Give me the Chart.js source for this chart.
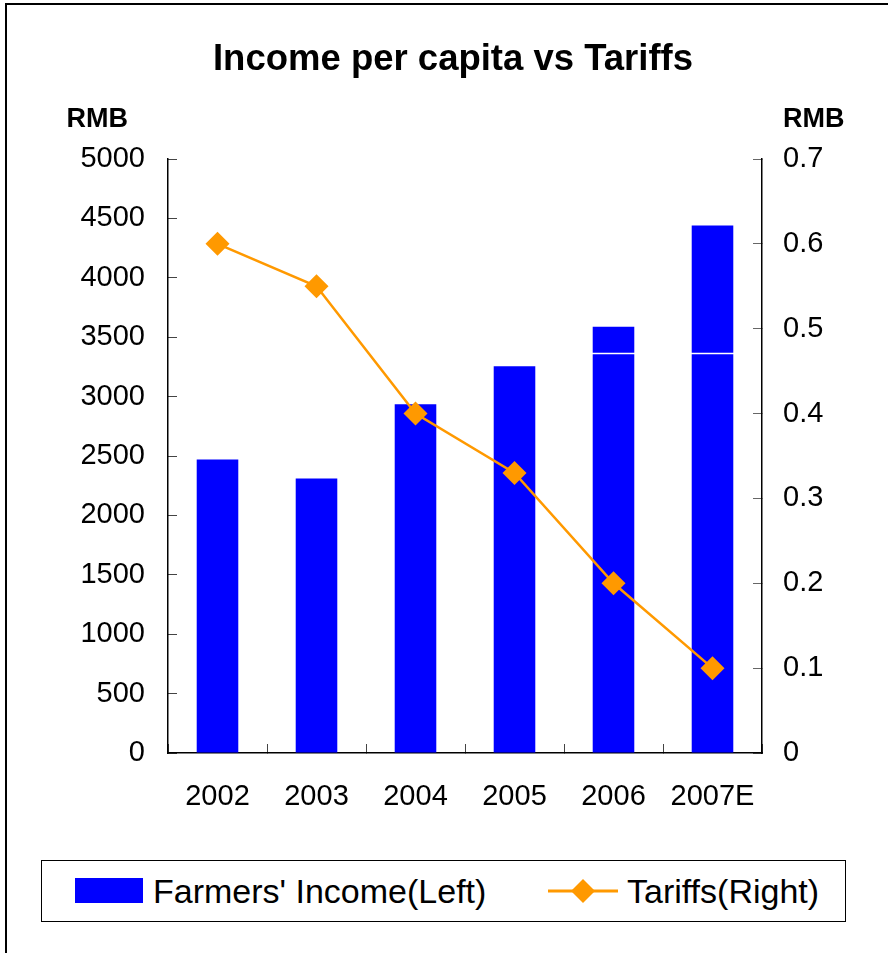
<!DOCTYPE html>
<html>
<head>
<meta charset="utf-8">
<title>Income per capita vs Tariffs</title>
<script src="https://cdn.jsdelivr.net/npm/chart.js@4.4.1/dist/chart.umd.min.js"></script>
<style>
  html, body { margin: 0; padding: 0; background: #fff; }
  #wrap { position: relative; width: 888px; height: 953px; overflow: hidden; font-family: 'Liberation Sans', Arial, sans-serif; }
  #frame { position: absolute; left: 5px; top: 3px; right: -10px; bottom: -10px; border-top: 2px solid #000; border-left: 2px solid #000; }
  #myChart { position: absolute; left: 0; top: 0; }
  #legend { position: absolute; left: 41px; top: 860px; width: 803px; height: 60px; border: 1px solid #000; background: #fff; }
  #legend .swatch { position: absolute; left: 33px; top: 17px; width: 68px; height: 25px; background: #0000ff; }
  #legend .label { position: absolute; top: 0; line-height: 60px; font-size: 34px; color: #000; white-space: nowrap; }
  #legend svg { position: absolute; left: 506px; top: 0; }
</style>
</head>
<body>
<div id="wrap">
  <canvas id="myChart" width="888" height="953"></canvas>
  <div id="frame"></div>
  <div id="legend">
    <span class="swatch"></span>
    <span class="label" id="lbl-bar" style="left:111px"></span>
    <svg width="70" height="60" viewBox="0 0 70 60">
      <line x1="0" y1="30" x2="70" y2="30" stroke="#ff9900" stroke-width="3"/>
      <polygon points="35,18 47,30 35,42 23,30" fill="#ff9900"/>
    </svg>
    <span class="label" id="lbl-line" style="left:585px"></span>
  </div>
</div>
<script>
const titleText = 'Income per capita vs Tariffs';
const unitLeft = 'RMB';
const unitRight = 'RMB';

const years = ['2002', '2003', '2004', '2005', '2006', '2007E'];
const income = [2470, 2310, 2936, 3255, 3587, 4440];
const tariffs = [0.6, 0.55, 0.4, 0.33, 0.2, 0.1];
const incomeLabel = "Farmers' Income(Left)";
const tariffLabel = 'Tariffs(Right)';

document.getElementById('lbl-bar').textContent = incomeLabel;
document.getElementById('lbl-line').textContent = tariffLabel;

const fontFamily = "'Liberation Sans', Arial, sans-serif";
const tickFont = { family: fontFamily, size: 29 };
const BLUE = '#0000ff';
const ORANGE = '#ff9900';

// title and unit captions above the axes
const headings = {
  id: 'headings',
  afterDraw(chart) {
    const { ctx, scales } = chart;
    ctx.save();
    ctx.fillStyle = '#000';
    ctx.textBaseline = 'alphabetic';
    ctx.font = 'bold 36.5px ' + fontFamily;
    ctx.textAlign = 'center';
    ctx.fillText(titleText, 453, 70);
    ctx.font = 'bold 27px ' + fontFamily;
    ctx.textAlign = 'right';
    ctx.fillText(unitLeft, scales.y.right - 40, 127);
    ctx.textAlign = 'left';
    ctx.fillText(unitRight, scales.y1.left + 21, 127);
    ctx.restore();
  }
};

// thin white seam running through the tall bars
const seam = {
  id: 'seam',
  afterDatasetDraw(chart, args) {
    if (args.index !== 0) return;
    const { ctx, chartArea, scales } = chart;
    const py = Math.round(scales.y.getPixelForValue(3365)) + 0.5;
    ctx.save();
    ctx.strokeStyle = '#fff';
    ctx.lineWidth = 1.5;
    ctx.beginPath();
    ctx.moveTo(chartArea.left + 1, py);
    ctx.lineTo(chartArea.right - 1, py);
    ctx.stroke();
    ctx.restore();
  }
};

const ctx = document.getElementById('myChart');

const data = {
  labels: years,
  datasets: [
    {
      type: 'bar',
      label: incomeLabel,
      data: income,
      backgroundColor: BLUE,
      borderWidth: 0,
      categoryPercentage: 1,
      barPercentage: 0.42,
      yAxisID: 'y',
      order: 2
    },
    {
      type: 'line',
      label: tariffLabel,
      data: tariffs,
      borderColor: ORANGE,
      borderWidth: 2.5,
      backgroundColor: ORANGE,
      pointStyle: 'rectRot',
      pointRadius: 12,
      pointBorderWidth: 0,
      pointBackgroundColor: ORANGE,
      tension: 0,
      yAxisID: 'y1',
      order: 1
    }
  ]
};

const config = {
  data: data,
  options: {
    responsive: false,
    animation: false,
    devicePixelRatio: 1,
    layout: { padding: { top: 159, left: 0, right: 0, bottom: 100 } },
    plugins: {
      legend: { display: false },
      title: { display: false },
      tooltip: { enabled: false }
    },
    scales: {
      x: {
        offset: true,
        grid: { offset: true, drawOnChartArea: false, tickLength: -9, color: '#444', tickWidth: 1 },
        border: { display: true, color: '#000', width: 1.5 },
        ticks: { padding: 36, color: '#000', font: tickFont, maxRotation: 0, autoSkip: false },
        afterFit(s) { s.height = 100; }
      },
      y: {
        position: 'left',
        min: 0, max: 5000,
        grid: { drawOnChartArea: false, tickLength: -9, color: '#444', tickWidth: 1 },
        border: { display: true, color: '#000', width: 1.5 },
        ticks: { stepSize: 500, padding: 32, color: '#000', font: tickFont, callback: v => String(v) },
        afterFit(s) { s.width = 168; }
      },
      y1: {
        position: 'right',
        min: 0, max: 0.7,
        grid: { drawOnChartArea: false, tickLength: -9, color: '#666', tickWidth: 1 },
        border: { display: true, color: '#000', width: 1.5 },
        ticks: { stepSize: 0.1, padding: 30, color: '#000', font: tickFont, callback: v => String(Math.round(v * 10) / 10) },
        afterFit(s) { s.width = 126; }
      }
    }
  },
  plugins: [seam, headings]
};

const myChart = new Chart(ctx, config);
</script>
</body>
</html>
